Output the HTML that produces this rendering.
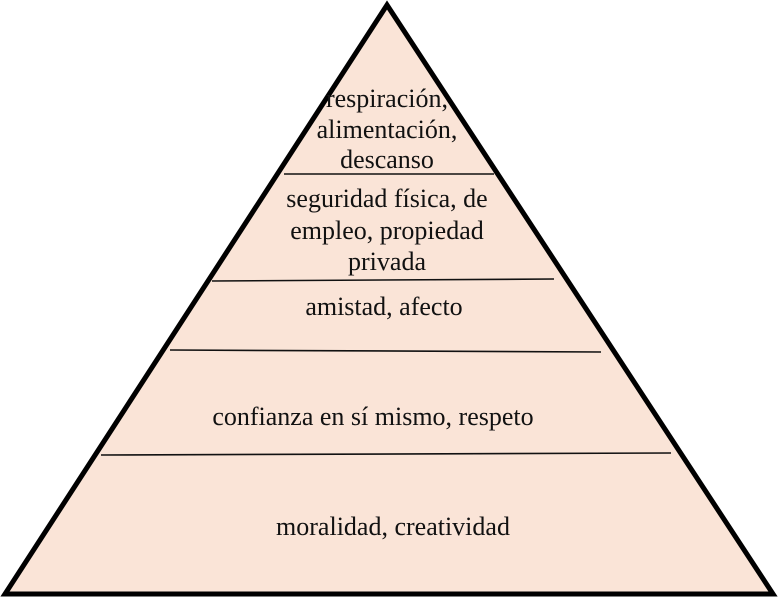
<!DOCTYPE html>
<html><head><meta charset="utf-8"><style>
html,body{margin:0;padding:0;background:#fff;}
svg{display:block;}
text{font-family:"Liberation Serif",serif;font-size:26px;fill:#111;text-anchor:middle;}
</style></head><body>
<svg width="779" height="600" viewBox="0 0 779 600">
<polygon points="387,5 5,594 773,594" fill="#fae4d7" stroke="#000" stroke-width="5" stroke-linejoin="miter"/>
<g stroke="#111" stroke-width="1.6">
<line x1="284" y1="174" x2="494" y2="174"/>
<line x1="212" y1="281" x2="554" y2="279"/>
<line x1="170" y1="350" x2="601" y2="352"/>
<line x1="101" y1="455" x2="671" y2="453"/>
</g>
<text x="387" y="107">respiración,</text>
<text x="387" y="138">alimentación,</text>
<text x="387" y="168">descanso</text>
<text x="387" y="207">seguridad física, de</text>
<text x="387" y="239">empleo, propiedad</text>
<text x="387" y="270">privada</text>
<text x="384" y="315">amistad, afecto</text>
<text x="373" y="425">confianza en sí mismo, respeto</text>
<text x="393" y="535">moralidad, creatividad</text>
</svg>
</body></html>
